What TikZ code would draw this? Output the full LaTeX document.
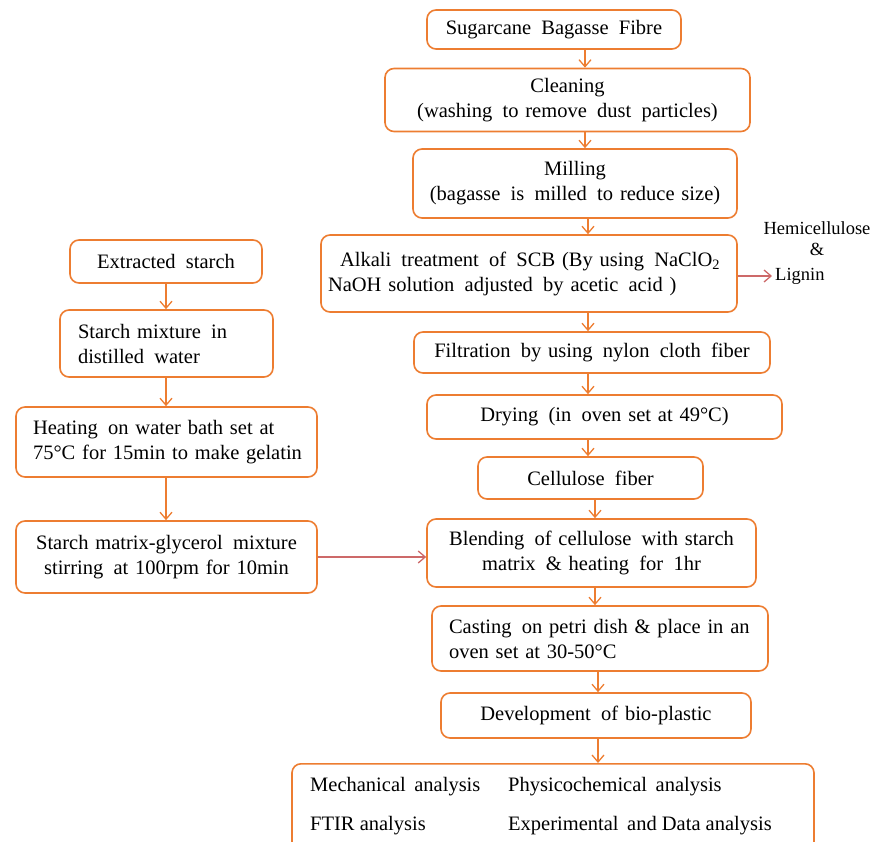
\documentclass[tikz,border=0pt]{standalone}
\usepackage{fontspec}
\setmainfont{Liberation Serif}
\usetikzlibrary{arrows.meta}
\definecolor{borange}{RGB}{237,125,49}
\definecolor{sred}{RGB}{205,105,105}
\newcommand{\boxfont}{\fontsize{20.5}{25}\selectfont}
\newcommand{\sidefont}{\fontsize{18.5}{20}\selectfont}
\begin{document}
\begin{tikzpicture}[x=1pt,y=-1pt,
  box/.style={draw=borange, line width=1.6pt, rounded corners=9pt, fill=white, font=\boxfont, inner ysep=0pt},
  cbox/.style={box, align=center, inner xsep=0pt},
  lbox/.style={box, align=left, inner xsep=17pt},
  arr/.style={draw=borange, line width=1.3pt, -{Straight Barb[length=7pt,width=12pt]}},
  sarr/.style={draw=sred, line width=1.3pt, -{Straight Barb[length=7pt,width=12pt]}},
  txt/.style={font=\boxfont, inner sep=0pt, anchor=west},
  stxt/.style={font=\sidefont, inner sep=0pt}]
\useasboundingbox (0,0) rectangle (871,842);
\clip (0,0) rectangle (871,842);

% spine x positions
\coordinate (xa) at (585,0);
\coordinate (xb) at (588,0);
\coordinate (xc) at (595,0);
\coordinate (xd) at (598,0);
\coordinate (xl) at (166,0);

% right column
\node[cbox, text width=254pt, minimum height=39pt] (sug) at (554,29.5) {Sugarcane\, Bagasse\, Fibre};
\node[cbox, text width=365pt, minimum height=63pt] (clean) at (567.5,100) {Cleaning\\(washing\, to remove\, dust\, particles)};
\node[cbox, text width=324pt, minimum height=69pt] (mill) at (575,183.5) {Milling\\(bagasse\, is\, milled\, to reduce size)};
\node[box, align=left, inner xsep=7pt, text width=402pt, minimum height=77pt] (alk) at (529,273.5) {\mbox{\hspace*{12pt}Alkali\, treatment\, of\, SCB (By using\, NaClO\textsubscript{2}}\\\mbox{NaOH solution\, adjusted\, by acetic\, acid )}};
\node[cbox, text width=356pt, minimum height=41pt] (filt) at (592,352.5) {Filtration\, by using\, nylon\, cloth\, fiber};
\node[cbox, text width=355pt, minimum height=44pt] (dry) at (604.5,417) {Drying\, (in\, oven set at 49°C)};
\node[cbox, text width=225pt, minimum height=42pt] (cell) at (590.5,478) {Cellulose\, fiber};
\node[cbox, text width=329pt, minimum height=68pt] (blend) at (591.5,553) {Blending\, of cellulose\, with starch\\matrix\, \& heating\, for\, 1hr};
\node[lbox, text width=302pt, minimum height=65pt] (cast) at (600,638.5) {\mbox{Casting\, on petri dish \& place in an}\\\mbox{oven set at 30-50°C}};
\node[cbox, text width=310pt, minimum height=45pt] (dev) at (596,715.5) {Development\, of bio-plastic};
\node[box, minimum width=522pt, minimum height=100pt, anchor=north] (anal) at (553,763) {};
\node[txt] (mech) at (310,787) {Mechanical\, analysis};
\node[txt] (phys) at (508,787) {Physicochemical\, analysis};
\node[txt] (ftir) at (310,826) {FTIR analysis};
\node[txt] (expt) at (508,826) {Experimental\, and Data analysis};

% side products
\node[stxt] (hemi) at (817,228) {Hemicellulose};
\node[stxt] (amp) at (817,249) {\&};
\node[stxt, anchor=west] (lig) at (775,276) {Lignin};

% left column
\node[cbox, text width=192pt, minimum height=43pt] (ext) at (166,261.5) {Extracted\, starch};
\node[lbox, inner xsep=18pt, text width=177pt, minimum height=67pt] (mix) at (166.5,343.5) {\mbox{Starch mixture\, in}\\\mbox{distilled\, water}};
\node[lbox, text width=267pt, minimum height=70pt] (heat) at (166.5,442) {\mbox{Heating\, on water bath set at}\\\mbox{75°C for 15min to make gelatin}};
\node[cbox, text width=301pt, minimum height=72pt] (mat) at (166.5,557) {Starch matrix-glycerol\, mixture\\stirring\, at 100rpm for 10min};

% arrows right column
\draw[arr] (sug.south -| xa) -- (clean.north -| xa);
\draw[arr] (clean.south -| xa) -- (mill.north -| xa);
\draw[arr] (mill.south -| xb) -- (alk.north -| xb);
\draw[arr] (alk.south -| xb) -- (filt.north -| xb);
\draw[arr] (filt.south -| xb) -- (dry.north -| xb);
\draw[arr] (dry.south -| xb) -- (cell.north -| xb);
\draw[arr] (cell.south -| xc) -- (blend.north -| xc);
\draw[arr] (blend.south -| xc) -- (cast.north -| xc);
\draw[arr] (cast.south -| xd) -- (dev.north -| xd);
\draw[arr] (dev.south -| xd) -- (anal.north -| xd);

% arrows left column
\draw[arr] (ext.south -| xl) -- (mix.north -| xl);
\draw[arr] (mix.south -| xl) -- (heat.north -| xl);
\draw[arr] (heat.south -| xl) -- (mat.north -| xl);

% side arrows
\draw[sarr] (alk.east |- lig.west) -- ([xshift=-3pt]lig.west);
\draw[sarr] (mat.east) -- (mat.east -| blend.west);
\end{tikzpicture}
\end{document}
